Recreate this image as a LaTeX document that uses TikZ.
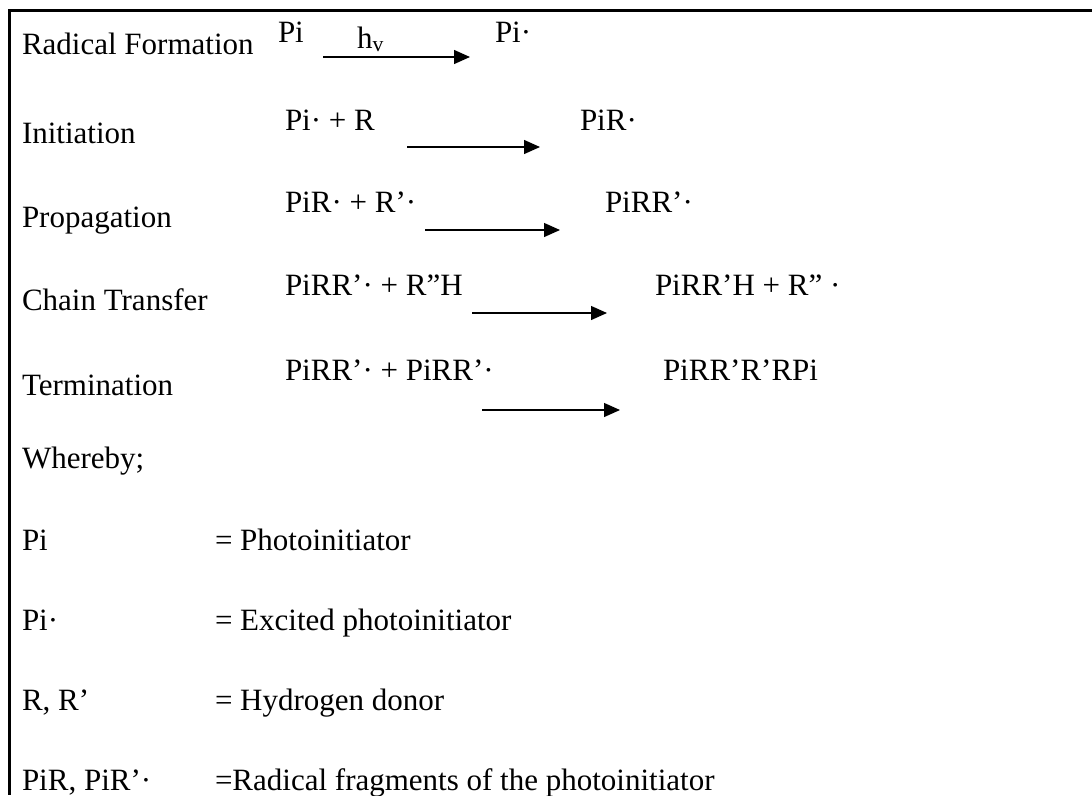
\documentclass[tikz,border=0pt]{standalone}
\usepackage{fontspec}
\setmainfont{Liberation Serif}
\usetikzlibrary{arrows.meta}
\tikzset{
  txt/.style={anchor=base west, inner sep=0pt, outer sep=0pt, font=\fontsize{31}{36}\selectfont},
  rxn/.style={line width=1.3pt, -{Triangle[length=16pt,width=14pt]}},
  frame/.style={line width=2.5pt}
}
\begin{document}
\begin{tikzpicture}[x=1pt,y=-1pt]
\useasboundingbox (0,0) rectangle (1092,795);
% frame (top and left edges)
\coordinate (ftr) at (1092,10.5);
\coordinate (ftl) at (9.5,10.5);
\coordinate (fbl) at (9.5,795);
\draw[frame] (ftr) -- (ftl) -- (fbl);
% step labels
\node[txt] (l1) at (22,54) {Radical Formation};
\node[txt] (l2) at (22,143) {Initiation};
\node[txt] (l3) at (22,227) {Propagation};
\node[txt] (l4) at (22,310) {Chain Transfer};
\node[txt] (l5) at (22,395) {Termination};
% row 1
\node[txt] (r1a) at (278,42) {Pi};
\node[txt] (r1h) at (357,48) {h\textsubscript{v}};
\node[txt] (r1b) at (495,42) {Pi·};
\coordinate (a1s) at (323,57);
\coordinate (a1e) at (470,57);
\draw[rxn] (a1s) -- (a1e);
% row 2
\node[txt] (r2a) at (285,130) {Pi· + R};
\node[txt] (r2b) at (580,130) {PiR·};
\coordinate (a2s) at (407,147);
\coordinate (a2e) at (540,147);
\draw[rxn] (a2s) -- (a2e);
% row 3
\node[txt] (r3a) at (285,212) {PiR· + R’·};
\node[txt] (r3b) at (605,212) {PiRR’·};
\coordinate (a3s) at (425,230);
\coordinate (a3e) at (560,230);
\draw[rxn] (a3s) -- (a3e);
% row 4
\node[txt] (r4a) at (285,295) {PiRR’· + R”H};
\node[txt] (r4b) at (655,295) {PiRR’H + R” ·};
\coordinate (a4s) at (472,313);
\coordinate (a4e) at (607,313);
\draw[rxn] (a4s) -- (a4e);
% row 5
\node[txt] (r5a) at (285,380) {PiRR’· + PiRR’·};
\node[txt] (r5b) at (663,380) {PiRR’R’RPi};
\coordinate (a5s) at (482,410);
\coordinate (a5e) at (620,410);
\draw[rxn] (a5s) -- (a5e);
% legend
\node[txt] (wb) at (22,468) {Whereby;};
\node[txt] (k1) at (22,550) {Pi};
\node[txt] (v1) at (215,550) {= Photoinitiator};
\node[txt] (k2) at (22,630) {Pi·};
\node[txt] (v2) at (215,630) {= Excited photoinitiator};
\node[txt] (k3) at (22,710) {R, R’};
\node[txt] (v3) at (215,710) {= Hydrogen donor};
\node[txt] (k4) at (22,790) {PiR, PiR’·};
\node[txt] (v4) at (215,790) {=Radical fragments of the photoinitiator};
\end{tikzpicture}
\end{document}
